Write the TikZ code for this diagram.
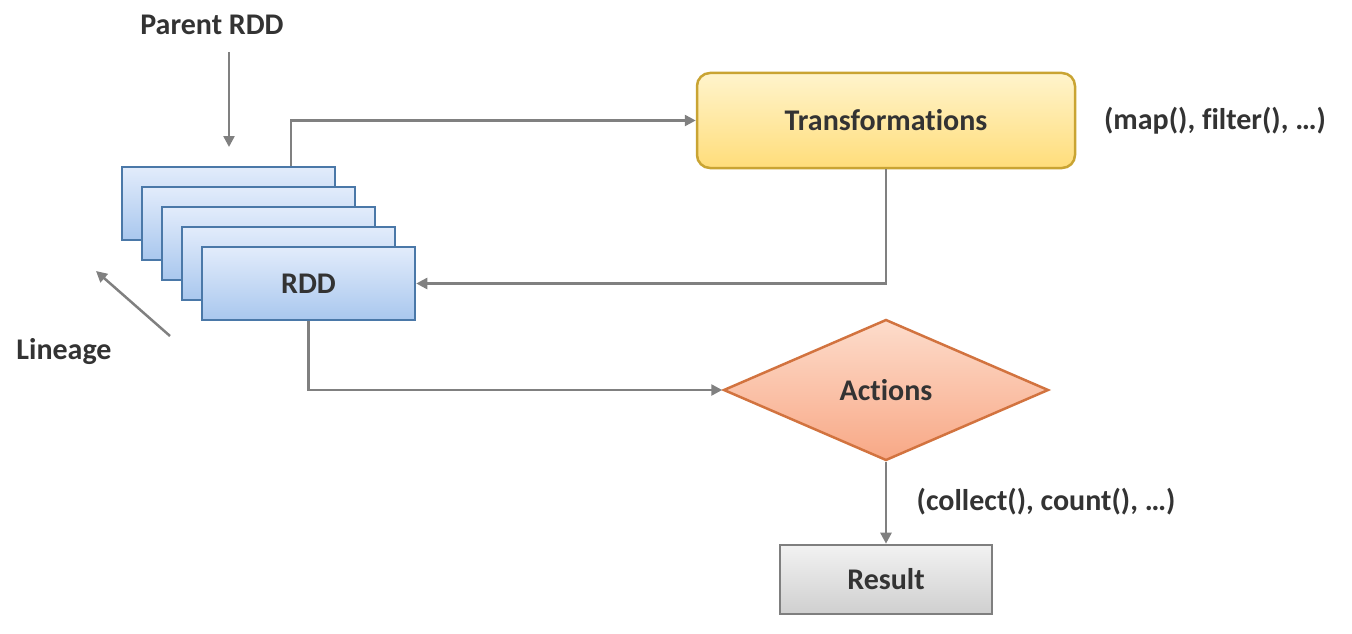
\documentclass[tikz,border=0pt]{standalone}
\usepackage{fontspec}
\setmainfont[Ligatures=NoCommon]{Carlito}
\usetikzlibrary{shapes.geometric,arrows.meta}
\definecolor{txt}{HTML}{333333}
\definecolor{conn}{HTML}{808080}
\definecolor{rddline}{HTML}{4A78A8}
\definecolor{rddtop}{HTML}{E2ECFB}
\definecolor{rddbot}{HTML}{A9C7EE}
\definecolor{trline}{HTML}{C9A433}
\definecolor{trtop}{HTML}{FFF4CC}
\definecolor{trbot}{HTML}{FFDD7A}
\definecolor{acline}{HTML}{D2733F}
\definecolor{actop}{HTML}{FDDCCB}
\definecolor{acbot}{HTML}{F8A886}
\definecolor{reline}{HTML}{7F7F7F}
\definecolor{retop}{HTML}{F2F2F2}
\definecolor{rebot}{HTML}{CFCFCF}
\tikzset{
  lbl/.style={font=\fontsize{30}{36}\selectfont\bfseries, text=txt, inner sep=0pt},
  rddbox/.style={draw=rddline, line width=2.5pt, top color=rddtop, bottom color=rddbot,
    minimum width=213pt, minimum height=73pt, inner sep=0pt, lbl},
  trbox/.style={draw=trline, line width=2.5pt, top color=trtop, bottom color=trbot,
    rounded corners=13pt, minimum width=378pt, minimum height=95pt, inner sep=0pt, lbl},
  acbox/.style={diamond, draw=acline, line width=2.5pt, top color=actop, bottom color=acbot,
    minimum width=325pt, minimum height=141pt, inner sep=0pt, aspect=2.3, lbl},
  rebox/.style={draw=reline, line width=2.6pt, top color=retop, bottom color=rebot,
    minimum width=212pt, minimum height=69pt, inner sep=0pt, lbl},
  link/.style={draw=conn, line width=2.5pt, -{Triangle[length=11pt,width=11pt]}}
}
\begin{document}
\begin{tikzpicture}[x=1pt,y=-1pt]
\useasboundingbox (0,0) rectangle (1352,634);
% stacked RDD partitions, back to front
\node[rddbox] (r1) at (228.5,203.5) {};
\node[rddbox] (r2) at (248.5,223.5) {};
\node[rddbox] (r3) at (268.5,243.5) {};
\node[rddbox] (r4) at (288.5,263.5) {};
\node[rddbox] (rdd) at (308.5,283.5) {RDD};
% operation boxes
\node[trbox] (tr) at (886,120.5) {Transformations};
\node[acbox] (act) at (886,390) {Actions};
\node[rebox] (res) at (886,579.5) {Result};
% labels
\node[lbl] (parent) at (212,25) {Parent RDD};
\node[lbl] (lineage) at (64,352) {Lineage};
\node[lbl] (trex) at (1215,121) {(map(), filter(), …)};
\node[lbl] (acex) at (1046,502) {(collect(), count(), …)};
% helper points
\coordinate (pa) at (229,52);
\coordinate (pb) at (229,147);
\coordinate (la) at (170,336);
\coordinate (lb) at (96,271);
\coordinate (split) at (291,121);
% connectors
\draw[link] (pa) -- (pb);
\draw[link] (la) -- (lb);
\draw[link] (r1.north -| split) |- (tr.west);
\draw[link] (tr.south) |- (rdd.east);
\draw[link] (rdd.south) |- (act.west);
\draw[link] (act.south) -- (res.north);
\end{tikzpicture}
\end{document}
